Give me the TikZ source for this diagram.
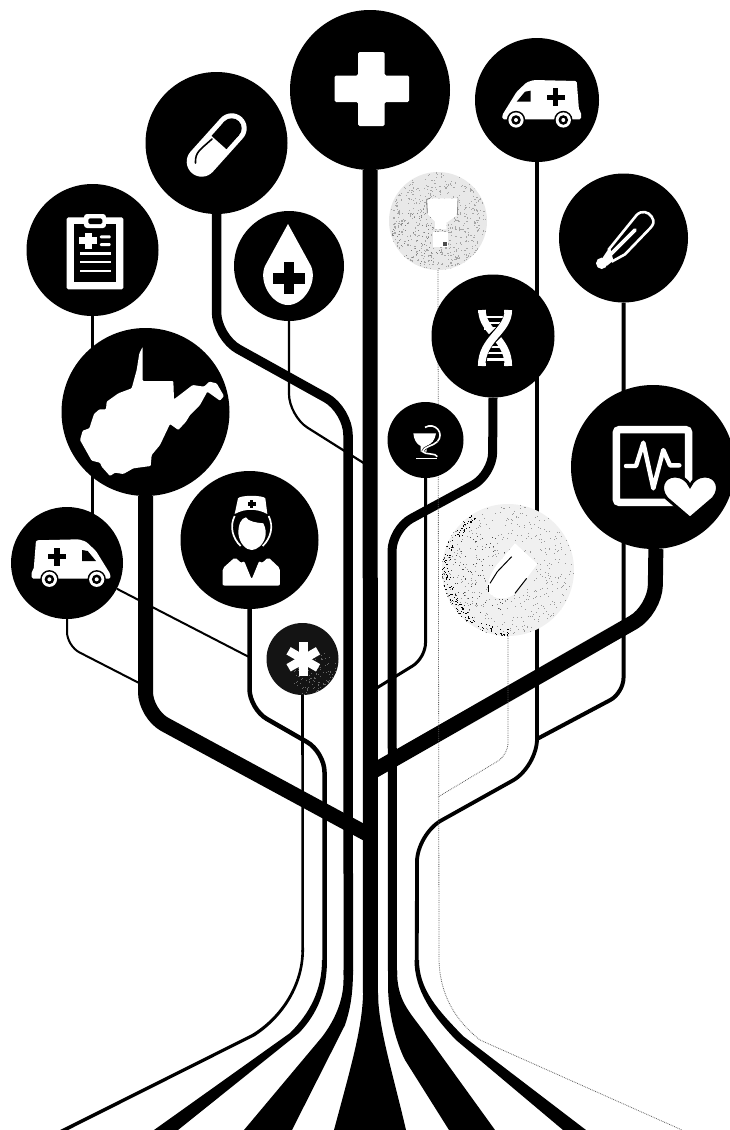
\documentclass[tikz,border=0pt]{standalone}
\usetikzlibrary{calc}
\pgfdeclarelayer{wires}
\pgfsetlayers{wires,main}
\tikzset{
  disc/.style={circle,fill=black,inner sep=0pt,minimum size=#1 pt},
  wire/.style={draw=black,line width=#1 pt,line join=round},
  faint/.style={draw=black!62,line width=0.8pt,densely dotted},
  wh/.style={fill=white,draw=none},
  bk/.style={fill=black,draw=none},
  zoomA/.style={shift={(#1)},scale=0.33333}
}
\newcommand{\speck}[6]{% cx cy r count colour size
  \foreach \i in {1,...,#4}{
    \pgfmathsetmacro\aa{rnd*360}
    \pgfmathsetmacro\rr{#3*sqrt(rnd)}
    \fill[#5] ({#1+\rr*cos(\aa)},{#2+\rr*sin(\aa)}) rectangle +(#6,#6);
  }}
\newcommand{\vanicon}{%
  \fill[wh,rounded corners=1.5pt] (-37.7,19.3) -- (-37.7,15) -- (-23.3,-8.3) -- (-13.3,-17.7) -- (-6,-20) -- (36.7,-19) -- (39,10) -- (41,12) -- (41,19.3) -- cycle;
  \fill[bk] (-23.3,1.7) -- (-9.3,1.7) -- (-9.3,-9.3) -- (-15,-8.3) -- cycle;
  \fill[bk] (6.7,-5.4) rectangle (24.7,0.1);
  \fill[bk] (13,-11.7) rectangle (18.4,6.3);
  \foreach \wx in {-24,23.3}{
    \fill[black] (\wx,20) circle (9.2);
    \fill[white] (\wx,20) circle (7.6);
    \fill[black] (\wx,20) circle (4.8);
    \fill[white] (\wx,20) circle (2);
  }}
\begin{document}
\begin{tikzpicture}[x=1pt,y=-1pt]
\useasboundingbox (0,0) rectangle (730,1130);
\pgfmathsetseed{4242}
% nodes
\node[disc=160] (plus) at (370,90) {};
\node[disc=124] (ambR) at (537,100) {};
\node[disc=142] (pill) at (216.5,143) {};
\node[disc=132] (clipb) at (92.5,250) {};
\node[disc=110] (drop) at (289,266) {};
\node[disc=129] (thermo) at (623.5,238) {};
\node[disc=123] (dna) at (493,336) {};
\node[disc=164] (heart) at (653,467) {};
\node[disc=76] (cad) at (425.5,440) {};
\node[disc=168] (wv) at (145.5,412) {};
\node[disc=112] (ambL) at (67,563) {};
\node[disc=138] (nurse) at (249.5,540) {};
\node[disc=72,fill=black!92] (ast) at (302.5,659) {};
\node[disc=98,fill=black!9] (flask) at (438,221) {};
\node[disc=132,fill=black!6] (tube) at (508,570) {};
% free ends
\coordinate (jDrop) at (366,464.5);
\coordinate (jWV) at (370,835.5);
\coordinate (jHeart) at (370,773);
\coordinate (jCad) at (371,691.5);
\coordinate (jLow) at (141,684);
\coordinate (jNurse) at (249,657);
\coordinate (jAmbR) at (537,739);
\coordinate (jTube) at (438,797);
\begin{pgfonlayer}{wires}
\fill[white] (0,0) rectangle (730,1130);
% centre trunk
\draw[wire=15] (plus.south) -- (370.5,1000);
\fill[black] (363,995) .. controls (362,1030) and (350,1070) .. (334,1130) -- (406,1130) .. controls (392,1070) and (379,1030) .. (378,995) -- cycle;
% pill branch
\draw[wire=9.5,rounded corners=25pt] (pill.south) -- (216.5,337) -- (348,410) -- (348.3,975);
\fill[black] (343.5,970) -- (343.5,980) .. controls (343.5,1000) and (335,1020) .. (322,1037) -- (244,1130) -- (292,1130) -- (345,1025) .. controls (350,1010) and (353,995) .. (353,970) -- cycle;
% nurse branch
\draw[wire=4.5,rounded corners=20pt] (nurse.south) -- (249.5,709) -- (324.5,752) -- (324.5,965);
\fill[black] (322,960) .. controls (322,990) and (310,1013) .. (290,1033) -- (154,1130) -- (178,1130) -- (299,1033) .. controls (318,1013) and (327,990) .. (327,960) -- cycle;
% asterisk branch
\draw[wire=2.6] (ast.south) -- (302.7,952);
\fill[black] (301.4,950) .. controls (301.4,985) and (280,1017) .. (252,1034) -- (60,1130) -- (68,1130) -- (255,1036) .. controls (284,1017) and (304,985) .. (304,950) -- cycle;
% state branch
\draw[wire=15,rounded corners=22pt] (wv.south) -- (145.5,714) -- (jWV);
% heart branch
\draw[wire=15,rounded corners=25pt] (heart.272) -- (655,610) -- (jHeart);
% DNA branch
\draw[wire=9,rounded corners=22pt] (dna.south) -- (492.5,474.5) -- (392,529) -- (392.5,975);
\fill[black] (388,970) -- (388,985) .. controls (388,1010) and (395,1040) .. (405,1060) -- (449,1130) -- (495,1130) -- (425,1033) .. controls (408,1010) and (397,1000) .. (397,970) -- cycle;
% top ambulance branch
\draw[wire=3.8,rounded corners=28pt] (ambR.south) -- (537,767) -- (417,834) -- (416.8,962);
\fill[black] (414.5,960) .. controls (414.5,990) and (432,1015) .. (456,1040) -- (563,1130) -- (586,1130) -- (463,1036) .. controls (438,1010) and (419,990) .. (419,960) -- cycle;
% thin branches
\draw[wire=4,rounded corners=15pt] (thermo.south) -- (623.5,693) -- (jAmbR);
\draw[wire=3,rounded corners=15pt] (cad.south) -- (425.5,658) -- (jCad);
\draw[wire=2.2,rounded corners=22pt] (drop.south) -- (289,416) -- (jDrop);
\draw[wire=2.2] (clipb.south) -- (clipb.south |- ambL);
\draw[wire=2,rounded corners=14pt] (ambL.south) -- (67,646) -- (jLow);
\draw[wire=2] (ambL) -- (jNurse);
% faint branches
\draw[faint,rounded corners=12pt] (tube.south) -- (508,755) -- (jTube);
\draw[faint] (flask.south) -- (439,960) .. controls (440,995) and (455,1020) .. (480,1040) -- (682,1130);
\end{pgfonlayer}
% grey textures
\begin{scope}
\clip (438,221) circle (49);
\speck{438}{221}{49}{550}{black!35}{1.2}
\speck{418}{235}{28}{80}{black!50}{1}
\end{scope}
\begin{scope}
\clip (508,570) circle (66);
\speck{508}{570}{66}{450}{black!40}{1}
\speck{480}{575}{40}{100}{black!70}{1}
\foreach \i in {1,...,170}{
  \pgfmathsetmacro\aa{120+rnd*150}
  \pgfmathsetmacro\rr{58+rnd*9}
  \fill[black] ({508+\rr*cos(\aa)},{570-\rr*sin(\aa)}) rectangle +(1.1,1.1);
}
\end{scope}
\begin{scope}
\clip (302.5,659) circle (36);
\speck{315}{675}{24}{160}{black!60}{1}
\end{scope}
% plus
\fill[wh,rounded corners=1.5pt] (334.5,75.5) -- (358,75.5) -- (358,52) -- (384.5,52) -- (384.5,75.5) -- (409,75.5) -- (409,102) -- (384.5,102) -- (384.5,126) -- (358,126) -- (358,102) -- (334.5,102) -- cycle;
% pill
\draw[white,line width=30pt,line cap=round] (201.7,161.7) -- (231.7,128.3);
\draw[black,line width=20pt,line cap=round] (231.7,128.3) -- (231,129);
\draw[black,line width=20pt] (231.7,128.3) -- (219,142.5);
\draw[black,line width=1.6pt,line cap=round] (195.5,163) .. controls (195,152) and (200,150) .. (212,139);
% clipboard
\begin{scope}[zoomA={20,60}]
\fill[white,rounded corners=1.5pt] (140,472) rectangle (310,688);
\fill[black] (163,492) rectangle (288,665);
\fill[white,rounded corners=3pt] (192,462) rectangle (258,504);
\fill[black,rounded corners=1.5pt] (205,475) rectangle (247,492);
\fill[white] (178,532) rectangle (232,552);
\fill[white] (195,518) rectangle (215,566);
\fill[white,rounded corners=1pt] (240,526) rectangle (272,535);
\fill[white,rounded corners=1pt] (240,549) rectangle (272,558);
\foreach \ly in {580,605,632}{\fill[white] (180,\ly-3.5) rectangle (272,\ly+3.5);}
\end{scope}
% drop
\fill[wh] (288,224) -- (265,266) .. controls (258,282) and (272,305) .. (288,305) .. controls (304,305) and (318,282) .. (311,266) -- cycle;
\fill[bk] (273,273) rectangle (305,283.5);
\fill[bk] (283.7,262) rectangle (294.3,294);
% ambulances
\begin{scope}[shift={(540,100)}]\vanicon\end{scope}
\begin{scope}[shift={(72.7,559.3)},xscale=-1]\vanicon\end{scope}
% West Virginia
\begin{scope}[zoomA={0,320}]
\fill[white,rounded corners=1pt] (428,80) -- (428,183) -- (520,183) -- (522,238) -- (578,195) -- (612,200) -- (628,185) -- (650,190) -- (672,228) -- (660,242) -- (622,215) -- (600,255) -- (570,285) -- (558,305) -- (535,330) -- (510,312) -- (480,375) -- (455,405) -- (452,438) -- (400,445) -- (370,462) -- (345,458) -- (330,468) -- (305,440) -- (300,428) -- (275,422) -- (240,360) -- (248,332) -- (268,325) -- (282,282) -- (298,268) -- (318,268) -- (320,245) -- (355,220) -- (395,205) -- (410,150) -- (418,100) -- cycle;
% nurse
\fill[white] (714,535) .. controls (720,525) and (790,525) .. (796,535) -- (802,582) .. controls (770,565) and (735,565) .. (704,582) -- cycle;
\fill[black] (750,540) rectangle (760,564);
\fill[black] (744,547) rectangle (767,557);
\draw[white,line width=1.7pt] (704,588) .. controls (688,620) and (698,655) .. (722,678);
\draw[white,line width=1.7pt] (806,588) .. controls (822,620) and (812,655) .. (788,678);
\fill[white] (715,640) .. controls (715,615) and (722,595) .. (738,592) .. controls (745,605) and (770,608) .. (790,610) .. controls (798,625) and (798,640) .. (796,650) .. controls (790,675) and (770,690) .. (755,690) .. controls (738,690) and (718,670) .. (715,640) -- cycle;
\fill[white,rounded corners=2pt] (668,790) -- (668,745) -- (705,712) -- (725,730) -- (732,722) -- (755,778) -- (778,722) -- (785,730) -- (805,712) -- (840,745) -- (840,797) -- (668,797) -- cycle;
\end{scope}
% thermometer
\begin{scope}[zoomA={380,20}]
\draw[white,line width=2.6pt,line join=round] (685,690) -- (770,585) .. controls (785,570) and (805,575) .. (815,590) .. controls (825,605) and (820,615) .. (810,625) -- (735,703) -- (695,725);
\fill[white] (665,730) circle (17);
\fill[white] (668,713) -- (690,680) -- (700,722) -- (680,738) -- cycle;
\draw[white,line width=3.6pt,line cap=round] (680,715) -- (765,630);
% flask silhouette
\fill[white] (140,535) -- (235,535) -- (232,585) -- (200,608) -- (200,628) -- (165,628) -- (165,605) -- (143,582) -- cycle;
\draw[black!55,line width=0.8pt] (142,580) -- (140,538) -- (150,535);
\draw[black!45,line width=0.8pt] (234,535) -- (232,585);
\fill[white] (160,635) rectangle (205,680);
\fill[black!70] (188,665) rectangle (200,678);
\end{scope}
% DNA
\begin{scope}[zoomA={380,270}]
\foreach \ry in {140,158,175,230,248,268}{\fill[white] (312,\ry-3.5) rectangle (380,\ry+3.5);}
\draw[white,line width=7.5pt] (306,120) .. controls (306,185) and (385,205) .. (385,288);
\draw[black,line width=10.5pt] (385,135) .. controls (385,185) and (305,205) .. (305,272);
\draw[white,line width=7.5pt] (385,120) .. controls (385,185) and (305,205) .. (305,288);
\fill[white] (295,120) rectangle (318,128);
\fill[white] (373,120) rectangle (395,128);
\fill[white] (295,280) rectangle (318,288);
\fill[white] (373,280) rectangle (395,288);
% caduceus
\fill[white] (100,490) -- (168,490) .. controls (165,510) and (155,522) .. (140,528) -- (140,545) -- (122,545) -- (122,528) .. controls (110,522) and (102,510) .. (100,490) -- cycle;
\draw[white,line width=1.6pt] (135,472) .. controls (165,455) and (195,490) .. (172,515);
\draw[black,line width=2.8pt] (172,515) .. controls (160,528) and (130,530) .. (128,545);
\draw[white,line width=1.6pt] (172,515) .. controls (160,528) and (130,530) .. (128,545) .. controls (135,555) and (168,548) .. (172,560);
\draw[white,line width=1.5pt] (108,565) -- (172,565);
% monitor
\draw[white,line width=7.5pt,rounded corners=3pt] (709,479) rectangle (926,697);
\draw[white,line width=4.4pt,line join=round,line cap=round] (738,588) -- (768,588) -- (790,518) -- (820,655) -- (850,540) -- (870,586) -- (898,586);
\draw[black,line width=3pt,fill=white] (930,745) -- (860,685) .. controls (835,655) and (850,618) .. (885,618) .. controls (905,618) and (922,630) .. (930,648) .. controls (938,630) and (955,618) .. (975,618) .. controls (1010,618) and (1025,655) .. (1000,685) -- cycle;
% test tube
\fill[white] (405,820) -- (472,882) -- (410,965) .. controls (385,995) and (340,990) .. (325,965) .. controls (320,935) and (335,905) .. (350,885) -- cycle;
\draw[black,line width=1pt] (395,860) -- (352,905) -- (330,940);
\draw[black,line width=1pt] (325,945) -- (325,965);
\draw[black,line width=1pt] (440,925) -- (405,970);
\end{scope}
% asterisk
\foreach \ang in {90,30,-30}{
  \draw[white,line width=8.5pt] ({303.3+17*cos(\ang)},{659.3-17*sin(\ang)}) -- ({303.3-17*cos(\ang)},{659.3+17*sin(\ang)});
}
\end{tikzpicture}
\end{document}
